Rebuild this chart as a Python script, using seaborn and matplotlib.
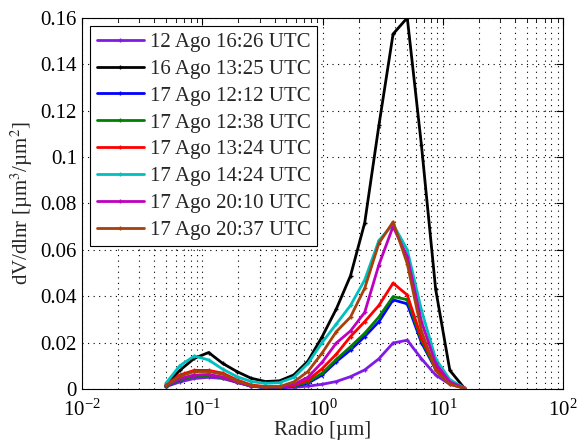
import numpy as np
import pandas as pd
import matplotlib
matplotlib.use("Agg")
import matplotlib.pyplot as plt
import seaborn as sns
from matplotlib.ticker import LogLocator, NullFormatter

radius = [0.050, 0.065, 0.086, 0.113, 0.148, 0.194, 0.255, 0.335, 0.439, 0.576, 0.756,
          0.992, 1.302, 1.708, 2.241, 2.940, 3.857, 5.061, 6.641, 8.713, 11.432, 15.000]

labels = ["12 Ago 16:26 UTC", "16 Ago 13:25 UTC", "17 Ago 12:12 UTC", "17 Ago 12:38 UTC",
          "17 Ago 13:24 UTC", "17 Ago 14:24 UTC", "17 Ago 20:10 UTC", "17 Ago 20:37 UTC"]

s_1226 = [0.0010, 0.0030, 0.0045, 0.0050, 0.0045, 0.0028, 0.0012, 0.0006, 0.0005, 0.0007, 0.0012,
          0.0020, 0.0032, 0.0053, 0.0082, 0.0130, 0.0198, 0.0210, 0.0130, 0.0060, 0.0020, 0.0004]
s_1625 = [0.0017, 0.0080, 0.0132, 0.0157, 0.0110, 0.0075, 0.0046, 0.0032, 0.0035, 0.0060, 0.0120,
          0.0225, 0.0345, 0.0488, 0.0716, 0.1136, 0.1530, 0.1600, 0.1050, 0.0430, 0.0080, 0.0005]
s_1712a = [0.0012, 0.0040, 0.0058, 0.0060, 0.0050, 0.0030, 0.0012, 0.0007, 0.0007, 0.0012, 0.0025,
           0.0060, 0.0118, 0.0168, 0.0226, 0.0290, 0.0384, 0.0367, 0.0200, 0.0085, 0.0025, 0.0004]
s_1712b = [0.0012, 0.0040, 0.0055, 0.0058, 0.0048, 0.0030, 0.0012, 0.0007, 0.0007, 0.0013, 0.0030,
           0.0068, 0.0127, 0.0182, 0.0240, 0.0310, 0.0398, 0.0385, 0.0210, 0.0088, 0.0025, 0.0004]
s_1713 = [0.0017, 0.0060, 0.0080, 0.0080, 0.0068, 0.0039, 0.0017, 0.0010, 0.0010, 0.0016, 0.0038,
          0.0087, 0.0150, 0.0226, 0.0290, 0.0360, 0.0456, 0.0405, 0.0220, 0.0095, 0.0030, 0.0004]
s_1714 = [0.0025, 0.0100, 0.0142, 0.0125, 0.0085, 0.0053, 0.0032, 0.0024, 0.0027, 0.0050, 0.0110,
          0.0200, 0.0280, 0.0360, 0.0470, 0.0640, 0.0710, 0.0600, 0.0340, 0.0130, 0.0040, 0.0005]
s_1720a = [0.0015, 0.0045, 0.0060, 0.0062, 0.0050, 0.0030, 0.0012, 0.0008, 0.0008, 0.0020, 0.0050,
           0.0115, 0.0198, 0.0250, 0.0330, 0.0535, 0.0700, 0.0570, 0.0290, 0.0110, 0.0030, 0.0004]
s_1720b = [0.0015, 0.0055, 0.0075, 0.0075, 0.0063, 0.0035, 0.0015, 0.0008, 0.0010, 0.0030, 0.0075,
           0.0155, 0.0247, 0.0310, 0.0434, 0.0628, 0.0720, 0.0540, 0.0250, 0.0080, 0.0020, 0.0003]

series = [s_1226, s_1625, s_1712a, s_1712b, s_1713, s_1714, s_1720a, s_1720b]
colors = [(0.5, 0.1, 0.9), (0, 0, 0), (0, 0, 1), (0, 0.5, 0), (1, 0, 0),
          (0, 0.75, 0.75), (0.75, 0, 0.75), (0.65, 0.25, 0.05)]

df = pd.concat([pd.DataFrame({"radius": radius, "dV": s, "serie": lab})
                for s, lab in zip(series, labels)], ignore_index=True)

sns.set_style("white")
plt.rcParams["font.family"] = ["Liberation Serif", "DejaVu Serif"]
plt.rcParams["mathtext.fontset"] = "stix"

FS = 15

fig = plt.figure(figsize=(5.77, 4.45), dpi=100)
ax = fig.add_axes([0.142, 0.126, 0.834, 0.834])

sns.lineplot(data=df, x="radius", y="dV", hue="serie", hue_order=labels,
             palette=dict(zip(labels, colors)), sort=False, estimator=None,
             marker="+", markersize=3.5, markeredgewidth=1.0, linewidth=2,
             legend=False, ax=ax)

data_lines = list(ax.lines)
for ln in data_lines:
    ln.set_markeredgecolor(ln.get_color())
    ln.set_markerfacecolor(ln.get_color())
    ln.set_linestyle("-")

ax.set_xscale("log")
ax.set_xlim(1e-2, 1e2)
ax.set_ylim(0, 0.16)
ax.set_yticks(np.arange(0, 0.161, 0.02))
ax.set_yticklabels(["0", "0.02", "0.04", "0.06", "0.08", "0.1", "0.12", "0.14", "0.16"])
ax.xaxis.set_major_locator(LogLocator(base=10, numticks=10))
ax.xaxis.set_minor_locator(LogLocator(base=10, subs=np.arange(2, 10), numticks=50))
ax.xaxis.set_minor_formatter(NullFormatter())

ax.grid(True, which="major", axis="both", linestyle=(0, (1, 4)), color="black", linewidth=0.8)
ax.grid(True, which="minor", axis="x", linestyle=(0, (1, 4)), color="black", linewidth=0.8)
ax.tick_params(which="both", direction="in", top=True, right=True, labelsize=FS, colors="black")
ax.tick_params(which="major", length=5)
ax.tick_params(which="minor", length=3)
ax.tick_params(axis="x", which="major", pad=8)
for sp in ax.spines.values():
    sp.set_color("black")
    sp.set_linewidth(0.8)

ax.set_xlabel("Radio [µm]", fontsize=FS, labelpad=0)
ax.set_ylabel("dV/dlnr [µm$^3$/µm$^2$]", fontsize=FS, labelpad=4)

leg = ax.legend(handles=data_lines, labels=labels, loc="upper left", fontsize=FS,
                frameon=True, fancybox=False, edgecolor="black", framealpha=1,
                borderpad=0.3, labelspacing=0.35, handlelength=2.3, handletextpad=0.25,
                borderaxespad=0.4)
leg.get_frame().set_linewidth(0.8)

fig.savefig("out.png", dpi=100)
